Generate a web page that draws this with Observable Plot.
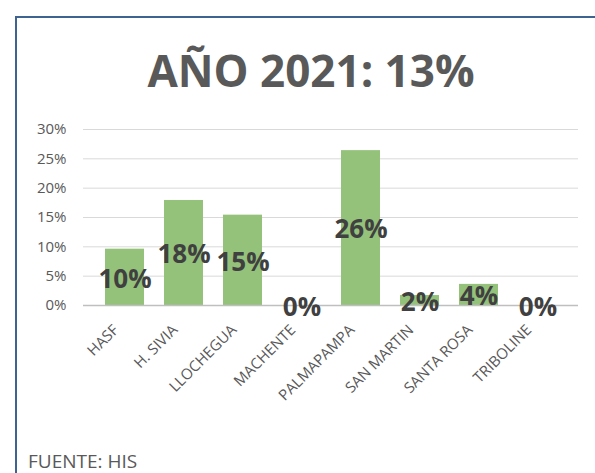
<!DOCTYPE html>
<html>
<head>
<meta charset="utf-8">
<script src="https://cdn.jsdelivr.net/npm/d3@7"></script>
<script src="https://cdn.jsdelivr.net/npm/@observablehq/plot@0.6"></script>
<style>
  html, body { margin: 0; padding: 0; background: #fff; }
  #wrap { position: relative; width: 595px; height: 473px; overflow: hidden; background: #fff; font-family: "Open Sans", sans-serif; }
  #frame { position: absolute; left: 15px; top: 16px; width: 700px; height: 600px; border-top: 2px solid #3d6491; border-left: 2px solid #3d6491; box-sizing: border-box; }
  #title { position: absolute; left: 111px; width: 400px; top: 42px; margin: 0; text-align: center; font: bold 44px "Open Sans", sans-serif; color: #595959; line-height: 56px; white-space: nowrap; }
  #chart { position: absolute; left: 0; top: 110px; }
  #caption { position: absolute; left: 28px; top: 452px; font: 19px "Open Sans", sans-serif; color: #595959; line-height: 18px; height: 18px; }
</style>
</head>
<body>
<div id="wrap">
  <div id="frame"></div>
  <h2 id="title">AÑO 2021: 13%</h2>
  <div id="chart"></div>
  <div id="caption">FUENTE: HIS</div>
</div>
<script>
const categories = ["HASF", "H. SIVIA", "LLOCHEGUA", "MACHENTE", "PALMAPAMPA", "SAN MARTIN", "SANTA ROSA", "TRIBOLINE"];
const values = [9.6, 17.9, 15.4, 0, 26.4, 1.7, 3.6, 0];
const labels = ["10%", "18%", "15%", "0%", "26%", "2%", "4%", "0%"];
const yTicks = [0, 5, 10, 15, 20, 25, 30];

const data = categories.map((c, i) => ({cat: c, v: values[i], label: labels[i]}));

const chart = Plot.plot({
  width: 595,
  height: 300,
  marginTop: 19,
  marginBottom: 105,
  marginLeft: 83,
  marginRight: 17,
  style: {fontFamily: "Open Sans, sans-serif", fontSize: "15px", color: "#595959", background: "transparent"},
  x: {domain: categories, padding: 0.34, label: null},
  y: {domain: [0, 30], label: null},
  marks: [
    Plot.gridY(yTicks, {stroke: "#d9d9d9", strokeOpacity: 1, strokeWidth: 1}),
    Plot.axisY(yTicks, {tickSize: 0, tickPadding: 17, tickFormat: d => d + "%", fill: "#595959", fontSize: 15, label: null}),
    Plot.axisX({tickSize: 0, tickPadding: 22, dx: -9, tickRotate: -45, fill: "#595959", fontSize: 15, label: null}),
    Plot.barY(data, {x: "cat", y: "v", fill: "#94c27b"}),
    Plot.ruleY([0], {stroke: "#bfbfbf", strokeWidth: 1.5}),
    Plot.text(data, {x: "cat", y: d => d.v / 2, text: "label", fontSize: 26, fontWeight: "bold", fill: "#404040", dy: 2})
  ]
});
document.getElementById("chart").appendChild(chart);
</script>
</body>
</html>
